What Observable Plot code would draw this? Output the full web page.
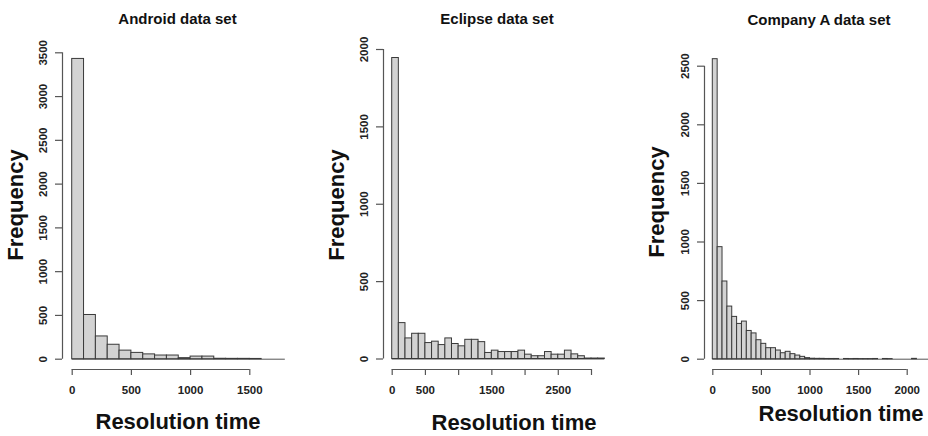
<!DOCTYPE html>
<html>
<head>
<meta charset="utf-8">
<script src="https://cdn.jsdelivr.net/npm/d3@7"></script>
<script src="https://cdn.jsdelivr.net/npm/@observablehq/plot@0.6"></script>
<style>
  body { margin: 0; background: #fff; }
  #wrap { position: relative; width: 928px; height: 436px; overflow: hidden; background: #fff;
          font-family: "Liberation Sans", Arial, Helvetica, sans-serif; }
  .panel { position: absolute; top: 0; }
  .t { position: absolute; white-space: nowrap; color: #111; font-weight: bold; line-height: 1;
       transform: translate(-50%, -50%); z-index: 2; }
  .title { font-size: 15px; }
  .xl { font-size: 22px; }
  .yl { font-size: 22px; transform: translate(-50%, -50%) rotate(-90deg); }
</style>
</head>
<body>
<div id="wrap"></div>
<script>
// ---------- data ----------
const titles = ["Android data set", "Eclipse data set", "Company A data set"];
const xTitle = "Resolution time";
const yTitle = "Frequency";

// Android: bins of 100
const androidBreaks = [0,100,200,300,400,500,600,700,800,900,1000,1100,1200,1300,1400,1500,1600,1700,1800];
const androidCounts = [3430,505,260,165,98,72,55,42,42,12,30,30,5,4,4,3,0,0];
const androidXTicks = [0,500,1000,1500];
const androidYTicks = [0,500,1000,1500,2000,2500,3000,3500];

// Eclipse: bins of 100
const eclipseBreaks = [0,100,200,300,400,500,600,700,800,900,1000,1100,1200,1300,1400,1500,1600,1700,1800,1900,2000,2100,2200,2300,2400,2500,2600,2700,2800,2900,3000,3100,3200];
const eclipseCounts = [1945,232,133,163,163,103,112,90,133,97,82,124,124,109,39,54,45,45,45,54,28,18,18,45,28,28,54,30,18,3,3,3];
const eclipseXTicks = [0,500,1000,1500,2000,2500,3000];
const eclipseXLabels = ["0","500","","1500","","2500",""];
const eclipseYTicks = [0,500,1000,1500,2000];

// Company A: bins of 50
const companyBreaks = [0,50,100,150,200,250,300,350,400,450,500,550,600,650,700,750,800,850,900,950,1000,1050,1100,1150,1200,1250,1300,1350,1400,1450,1500,1550,1600,1650,1700,1750,1800,1850,1900,1950,2000,2050,2100,2150,2200,2250];
const companyCounts = [2560,956,663,449,361,301,321,241,220,162,131,94,94,74,51,63,43,31,20,9,4,3,3,2,2,2,0,2,1,2,1,1,1,2,0,2,1,0,0,0,0,3,0,0,0];
const companyXTicks = [0,500,1000,1500,2000];
const companyYTicks = [0,500,1000,1500,2000,2500];

// ---------- layout ----------
const panels = [
  { left: 0,   width: 310, breaks: androidBreaks, counts: androidCounts, xTicks: androidXTicks, xLabels: null,
    yTicks: androidYTicks, xRange: [71.7, 249.3], yRange: [358.7, 52.3], axisLeft: 62, axisDx: -9.7,
    title: [177.5, 17.5], ylab: [16, 205], xlab: [178, 422] },
  { left: 310, width: 310, breaks: eclipseBreaks, counts: eclipseCounts, xTicks: eclipseXTicks, xLabels: eclipseXLabels,
    yTicks: eclipseYTicks, xRange: [81.7, 281], yRange: [358.5, 49], axisLeft: 73, axisDx: -8.7,
    title: [497, 17.5], ylab: [337, 205], xlab: [514, 423] },
  { left: 620, width: 308, breaks: companyBreaks, counts: companyCounts, xTicks: companyXTicks, xLabels: null,
    yTicks: companyYTicks, xRange: [92.3, 286.7], yRange: [358.7, 65.7], axisLeft: 84, axisDx: -8.3,
    title: [819, 19], ylab: [657, 202], xlab: [841, 414] }
];

const wrap = document.getElementById("wrap");
const H = 436, axisY = 369;

panels.forEach((p, i) => {
  const bins = p.counts.map((c, k) => ({ x1: p.breaks[k], x2: p.breaks[k + 1], count: c }));
  const xMaxTick = p.xTicks[p.xTicks.length - 1];
  const yMaxTick = p.yTicks[p.yTicks.length - 1];
  const chart = Plot.plot({
    width: p.width,
    height: H,
    marginLeft: p.axisLeft,
    marginRight: 0,
    marginTop: 0,
    marginBottom: H - axisY,
    style: { color: "#222", background: "transparent", fontFamily: '"Liberation Sans", Arial, sans-serif' },
    x: { domain: [0, xMaxTick], range: p.xRange },
    y: { domain: [0, yMaxTick], range: p.yRange },
    marks: [
      Plot.ruleY([0], { x1: p.breaks[0], x2: p.breaks[p.breaks.length - 1], stroke: "#555", strokeWidth: 1 }),
      Plot.rectY(bins, { x1: "x1", x2: "x2", y: "count", fill: "#d3d3d3", stroke: "#3a3a3a", strokeWidth: 1 }),
      // y axis (R style: offset line spanning the ticks)
      Plot.ruleX([0], { y1: p.yTicks[0], y2: yMaxTick, dx: p.axisDx, stroke: "#555", strokeWidth: 1.2 }),
      Plot.axisY(p.yTicks, { anchor: "left", tickSize: 7, tickPadding: 9, tickRotate: -90, fontSize: 11.5,
                             fontWeight: "bold", fill: "#222", label: null, stroke: "#555", strokeWidth: 1.2,
                             tickFormat: (d) => String(d) }),
      // x axis
      Plot.ruleY([0], { x1: p.xTicks[0], x2: xMaxTick, dy: axisY - p.yRange[0], stroke: "#555", strokeWidth: 1.2 }),
      Plot.axisX(p.xTicks, { anchor: "bottom", tickSize: 6, tickPadding: 10, fontSize: 11.5, fontWeight: "bold",
                             fill: "#222", label: null, stroke: "#555", strokeWidth: 1.2,
                             tickFormat: p.xLabels ? (d) => p.xLabels[p.xTicks.indexOf(d)] : (d) => String(d) })
    ]
  });
  chart.classList.add("panel");
  chart.style.left = p.left + "px";
  wrap.appendChild(chart);

  const addText = (txt, cls, pos) => {
    const d = document.createElement("div");
    d.className = "t " + cls;
    d.textContent = txt;
    d.style.left = pos[0] + "px";
    d.style.top = pos[1] + "px";
    wrap.appendChild(d);
  };
  addText(titles[i], "title", p.title);
  addText(yTitle, "yl", p.ylab);
  addText(xTitle, "xl", p.xlab);
});
</script>
</body>
</html>
